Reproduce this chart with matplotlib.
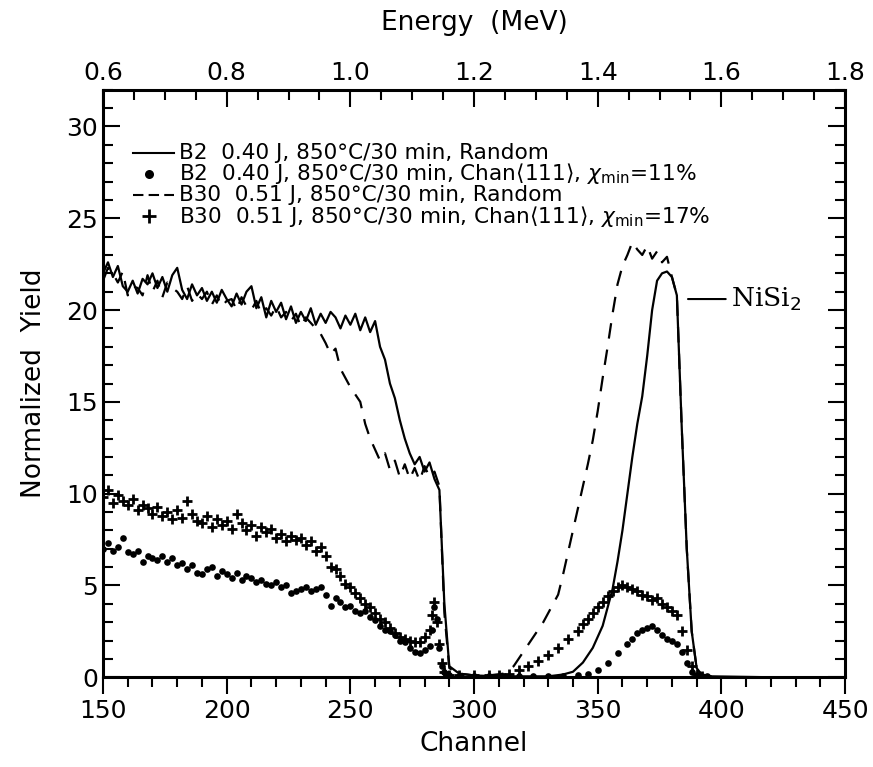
import numpy as np
import matplotlib
matplotlib.use("Agg")
import matplotlib.pyplot as plt
from matplotlib.lines import Line2D
from matplotlib.ticker import MultipleLocator, FixedLocator

plt.rcParams['font.family'] = ['DejaVu Sans']
plt.rcParams['mathtext.fontset'] = 'dejavusans'

# B2 0.40 J, random (solid line), read every 2 channels from 150 to 290
b2_rand_ch = list(range(150, 292, 2)) + [294, 300, 310, 320, 330, 336, 340, 344, 348, 352, 356, 358,
                                        360, 362, 364, 366, 368, 370, 372, 374, 376, 378, 380, 382,
                                        384, 386, 388, 390, 392, 396, 420, 450]
b2_rand_y = [22.0, 22.6, 21.8, 22.4, 21.3, 21.0, 21.6, 20.9, 21.7, 21.4,
             22.0, 21.2, 21.8, 21.0, 21.9, 22.3, 21.1, 20.6, 21.4, 20.8,
             21.2, 20.5, 21.0, 20.4, 21.1, 20.6, 20.2, 20.9, 20.3, 21.0,
             21.3, 20.1, 20.7, 19.6, 20.5, 19.9, 20.4, 19.5, 20.2, 19.3,
             19.9, 19.4, 20.1, 19.2, 19.8, 19.3, 19.9, 19.6, 19.0, 19.7,
             19.2, 19.8, 18.9, 19.6, 18.8, 19.4, 18.0, 17.3, 16.0, 15.2,
             14.0, 13.0, 12.2, 11.6, 12.0, 11.2, 11.7, 10.8, 10.2, 4.0,
             0.6,
             0.2, 0.1, 0.05, 0.05, 0.05, 0.15, 0.3, 0.8, 1.6, 2.8, 4.8, 6.3,
             8.0, 10.0, 12.0, 13.8, 15.3, 17.5, 20.0, 21.6, 22.0, 22.1, 21.8, 20.8,
             13.5, 7.0, 2.5, 0.5, 0.15, 0.05, 0.0, 0.0]

# B30 0.51 J, random (dashed line)
b30_rand_ch = list(range(150, 292, 2)) + [294, 300, 306, 312, 316, 318, 320, 324, 328, 332, 334,
                                         336, 338, 340, 342, 344, 346, 348, 350, 352, 354, 356,
                                         358, 360, 362, 364, 366, 368, 370, 372, 374, 376, 378,
                                         380, 382, 384, 386, 388, 390, 392, 396]
b30_rand_y = [21.6, 22.3, 22.0, 21.5, 22.1, 20.8, 21.3, 21.2, 20.8, 21.9,
              21.0, 21.6, 20.7, 21.5, 21.2, 21.0, 20.6, 21.3, 20.5, 20.9,
              20.6, 21.0, 20.3, 20.8, 20.2, 20.5, 20.6, 20.0, 20.7, 20.2,
              20.0, 20.5, 19.8, 20.1, 19.7, 20.2, 19.6, 19.9, 19.4, 19.8,
              19.1, 19.6, 19.3, 19.0, 18.7, 18.2, 17.6, 17.9, 16.8, 16.3,
              15.8, 15.4, 15.0, 13.8, 13.0, 12.4, 11.8, 12.2, 11.3, 11.8,
              10.9, 11.6, 10.8, 11.4, 10.7, 11.5, 10.9, 11.2, 10.4, 3.5,
              0.5,
              0.2, 0.1, 0.1, 0.2, 0.6, 1.0, 1.4, 2.2, 3.0, 4.0, 4.5,
              5.6, 6.8, 8.0, 9.2, 10.4, 11.6, 12.9, 14.5, 16.3, 18.0, 19.8,
              21.4, 22.4, 23.0, 23.7, 23.3, 23.0, 23.5, 22.8, 23.2, 22.6, 22.9,
              21.8, 20.8, 13.5, 7.0, 2.5, 0.5, 0.15, 0.05]

# B2 0.40 J, channeled <111> (dots)
b2_chan_ch = list(range(150, 284, 2)) + [283, 284, 285, 286, 287, 288, 290, 294, 300, 306, 312,
                                        318, 324, 330, 336, 342, 346, 350, 354, 358, 362, 364,
                                        366, 368, 370, 372, 374, 376, 378, 380, 382, 384, 386,
                                        388, 390, 394]
b2_chan_y = [7.0, 7.3, 6.9, 7.1, 7.6, 6.8, 6.7, 6.9, 6.3, 6.6,
             6.5, 6.4, 6.6, 6.3, 6.5, 6.1, 6.2, 5.9, 6.1, 5.7,
             5.6, 5.9, 6.0, 5.5, 5.8, 5.6, 5.4, 5.7, 5.3, 5.5,
             5.4, 5.2, 5.3, 5.1, 5.0, 5.2, 4.9, 5.0, 4.6, 4.7,
             4.8, 4.9, 4.7, 4.8, 4.9, 4.5, 3.9, 4.3, 4.1, 3.8,
             3.9, 3.6, 3.5, 3.6, 3.3, 3.1, 2.8, 2.6, 2.5, 2.3,
             2.0, 1.9, 1.6, 1.4, 1.3, 1.5, 1.7,
             2.6, 3.8, 3.2, 1.6, 0.6, 0.3, 0.1, 0.05, 0.05, 0.05, 0.05,
             0.05, 0.05, 0.05, 0.05, 0.1, 0.2, 0.4, 0.8, 1.3, 1.8, 2.1,
             2.4, 2.6, 2.7, 2.8, 2.6, 2.3, 2.1, 2.0, 1.8, 1.4, 0.8,
             0.3, 0.1, 0.05]

# B30 0.51 J, channeled <111> (pluses)
b30_chan_ch = list(range(150, 284, 2)) + [283, 284, 285, 286, 287, 288, 290, 294, 300, 306, 310,
                                         314, 318, 322, 326, 330, 334, 338, 342, 344, 346, 348,
                                         350, 352, 354, 356, 358, 360, 362, 364, 366, 368, 370,
                                         372, 374, 376, 378, 380, 382, 384, 386, 388, 390, 392]
b30_chan_y = [9.8, 10.2, 9.5, 9.9, 9.6, 9.4, 9.7, 9.1, 9.4, 9.2,
              8.9, 9.3, 8.8, 9.0, 8.6, 9.1, 8.7, 9.6, 8.9, 8.5,
              8.4, 8.8, 8.2, 8.6, 8.3, 8.5, 8.1, 8.9, 8.4, 8.0,
              8.3, 7.7, 8.2, 7.9, 8.1, 7.6, 7.8, 7.4, 7.7, 7.5,
              7.6, 7.2, 7.4, 6.9, 7.1, 6.6, 6.0, 5.9, 5.5, 5.1,
              4.9, 4.6, 4.3, 4.0, 3.8, 3.5, 3.2, 3.0, 2.7, 2.4,
              2.2, 2.1, 2.0, 1.9, 1.9, 2.2, 2.6,
              3.4, 4.1, 3.0, 1.8, 0.8, 0.3, 0.15, 0.1, 0.1, 0.1, 0.1,
              0.2, 0.4, 0.6, 0.9, 1.2, 1.6, 2.1, 2.5, 2.9, 3.2, 3.5,
              3.8, 4.1, 4.4, 4.7, 4.9, 5.0, 4.9, 4.8, 4.7, 4.5, 4.4,
              4.2, 4.3, 4.0, 3.8, 3.6, 3.4, 2.5, 1.5, 0.6, 0.2, 0.05]

energy_ticks = [0.6, 0.8, 1.0, 1.2, 1.4, 1.6, 1.8]

legend_labels = [
    "B2  0.40 J, 850°C/30 min, Random",
    r"B2  0.40 J, 850°C/30 min, Chan$\langle$111$\rangle$, $\chi_{\rm min}$=11%",
    "B30  0.51 J, 850°C/30 min, Random",
    r"B30  0.51 J, 850°C/30 min, Chan$\langle$111$\rangle$, $\chi_{\rm min}$=17%",
]

fig = plt.figure(figsize=(8.73, 7.67), dpi=100)
ax = fig.add_axes([0.118, 0.117, 0.850, 0.766])

ax.plot(b2_rand_ch, b2_rand_y, color='black', lw=1.6)
ax.plot(b30_rand_ch, b30_rand_y, color='black', lw=1.6, ls=(0, (7, 5)))
ax.plot(b2_chan_ch, b2_chan_y, 'o', color='black', ms=4.8, mew=0)
ax.plot(b30_chan_ch, b30_chan_y, '+', color='black', ms=7.5, mew=2)

ax.set_xlim(150, 450)
ax.set_ylim(0, 32)
ax.xaxis.set_major_locator(MultipleLocator(50))
ax.xaxis.set_minor_locator(MultipleLocator(10))
ax.yaxis.set_major_locator(MultipleLocator(5))
ax.yaxis.set_minor_locator(MultipleLocator(1))
ax.tick_params(axis='x', which='both', direction='out', labelsize=18, width=1.5)
ax.tick_params(axis='y', which='both', direction='in', right=True, labelsize=18, width=1.5)
ax.tick_params(which='major', length=12)
ax.tick_params(which='minor', length=7)
for s in ax.spines.values():
    s.set_linewidth(2.2)

ax.set_xlabel("Channel", fontsize=19, labelpad=6)
ax.set_ylabel("Normalized  Yield", fontsize=19, labelpad=14)

# energy scale on top: E = 0.6 MeV + 0.004 MeV/channel
top = ax.secondary_xaxis('top', functions=(lambda c: 0.6 + (c - 150) * 0.004,
                                           lambda e: 150 + (e - 0.6) / 0.004))
top.xaxis.set_major_locator(FixedLocator(energy_ticks))
top.xaxis.set_minor_locator(MultipleLocator(0.05))
top.xaxis.set_major_formatter(plt.FuncFormatter(lambda v, p: f"{v:.1f}"))
top.tick_params(which='both', direction='in', labelsize=18, width=1.5)
top.tick_params(which='major', length=12)
top.tick_params(which='minor', length=7)
top.set_xlabel("Energy  (MeV)", fontsize=19, labelpad=22)

# legend drawn row by row so the rows sit as tightly as in the original
styles = [dict(ls='-', marker=None), dict(ls='none', marker='o'),
          dict(ls=(0, (5, 2.5)), marker=None), dict(ls='none', marker='+')]
row_y = [0.893, 0.857, 0.821, 0.785]
for lab, st, yy in zip(legend_labels, styles, row_y):
    if st['marker'] is None:
        ax.add_line(Line2D([0.040, 0.096], [yy, yy], transform=ax.transAxes,
                           color='black', lw=1.5, ls=st['ls']))
    else:
        ms = 6.5 if st['marker'] == 'o' else 10
        ax.add_line(Line2D([0.062], [yy], transform=ax.transAxes, color='black',
                           ls='none', marker=st['marker'], ms=ms, mew=2 if st['marker'] == '+' else 0))
    ax.text(0.102, yy, lab, transform=ax.transAxes, fontsize=15.6, va='center', ha='left')

ax.annotate("NiSi$_2$", xy=(386.5, 20.6), xytext=(404, 20.6),
            fontsize=19, family='DejaVu Serif', va='center',
            arrowprops=dict(arrowstyle='-', color='black', lw=1.5, shrinkA=2, shrinkB=0))

fig.savefig("out.png", dpi=100)
